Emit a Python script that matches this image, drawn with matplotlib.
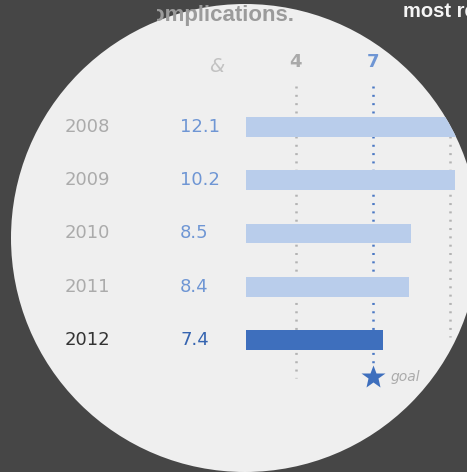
"""Lens view of complication rates by year, with a goal line."""

import matplotlib

matplotlib.use("Agg")
import matplotlib.pyplot as plt
import numpy as np
from matplotlib.patches import Circle, Rectangle
from matplotlib.transforms import blended_transform_factory

W, H = 467, 472

years = ["2008", "2009", "2010", "2011", "2012"]
rates = [12.1, 10.2, 8.5, 8.4, 7.4]
grid_ticks = [4, 7, 10]
grid_ends = [4.71, 4.53, 3.95]
goal = 7

BG = "#464646"
LENS = "#efefef"
LIGHT_BAR = "#b9cdeb"
DARK_BAR = "#3e6fbd"
LIGHT_BLUE = "#6f96d4"
GRAY_TXT = "#ababab"

fig = plt.figure(figsize=(W / 100, H / 100), dpi=100)
fig.patch.set_facecolor(BG)

# pixel-space layer for the lens and loose text
bg = fig.add_axes([0, 0, 1, 1])
bg.set_xlim(0, W)
bg.set_ylim(H, 0)
bg.axis("off")
lens = Circle((245, 238), 234, facecolor=LENS, edgecolor="none", zorder=0)
bg.add_patch(lens)

# data layer for bars
ax = fig.add_axes([246 / W, 0, 1 - 246 / W, 1])
ax.set_xlim(2.05, 10.68)
ax.set_ylim(6.479, -2.385)
ax.axis("off")
ax.patch.set_alpha(0)

pos = np.arange(len(years))
last = len(years) - 1

# dotted reference lines (behind bars)
for tick, end in zip(grid_ticks, grid_ends):
    col = "#4a78c4" if tick == goal else "#b3b3b3"
    ln = ax.vlines(tick, -0.77, end, colors=col, linewidth=1.8,
                   linestyles=(0, (0.8, 2.53)), zorder=1)
    ln.set_clip_path(lens)

colors = [DARK_BAR if i == last else LIGHT_BAR for i in pos]
bars = ax.barh(pos, rates, height=0.375, color=colors, zorder=2)
for b in bars:
    b.set_clip_path(lens)

# goal star
ax.plot(goal, 4.7, marker="*", ms=18, color=DARK_BAR, mec="none",
        zorder=3, clip_on=False)
ax.annotate("goal", (goal, 4.7), xytext=(13, 0), textcoords="offset points",
            ha="left", va="center", fontsize=10, style="italic", color=GRAY_TXT,
            annotation_clip=False)

# row labels: years and values
row_tr = blended_transform_factory(bg.transData, ax.transData)
for i, (yr, v) in enumerate(zip(years, rates)):
    is_last = i == last
    ax.text(65, i, yr, transform=row_tr, ha="left", va="center", fontsize=13,
            color="#333333" if is_last else GRAY_TXT)
    ax.text(180, i, f"{v:.1f}", transform=row_tr, ha="left", va="center",
            fontsize=13, color="#3564b0" if is_last else LIGHT_BLUE)

# column headers, only those that fall inside the lens
# (Agg ignores circular clip paths on text, so test the position instead)
hdr_tr = blended_transform_factory(ax.transData, bg.transData)
for tick in grid_ticks:
    xy_disp = hdr_tr.transform((tick, 62))
    if not lens.contains_point(xy_disp):
        continue
    ax.text(tick, 62, str(tick), transform=hdr_tr, ha="center", va="center",
            fontsize=13, fontweight="bold",
            color=LIGHT_BLUE if tick == goal else "#aaaaaa")
bg.text(217, 66, "&", ha="center", va="center", fontsize=14, style="italic",
        color="#c2c2c2")

# surrounding page text
top = bg.text(294, 21, "Complications.", ha="right", va="baseline", fontsize=16,
              fontweight="bold", color="#9b9b9b", family="Liberation Sans")
top.set_clip_path(Rectangle((157, 0), 220, 40, transform=bg.transData))
top.set_clip_on(True)
bg.text(403, 17, "most recent", ha="left", va="baseline", fontsize=14.5,
        fontweight="bold", color="#f5f5f5", family="Liberation Sans")

fig.savefig("out.png", dpi=100, facecolor=BG)
